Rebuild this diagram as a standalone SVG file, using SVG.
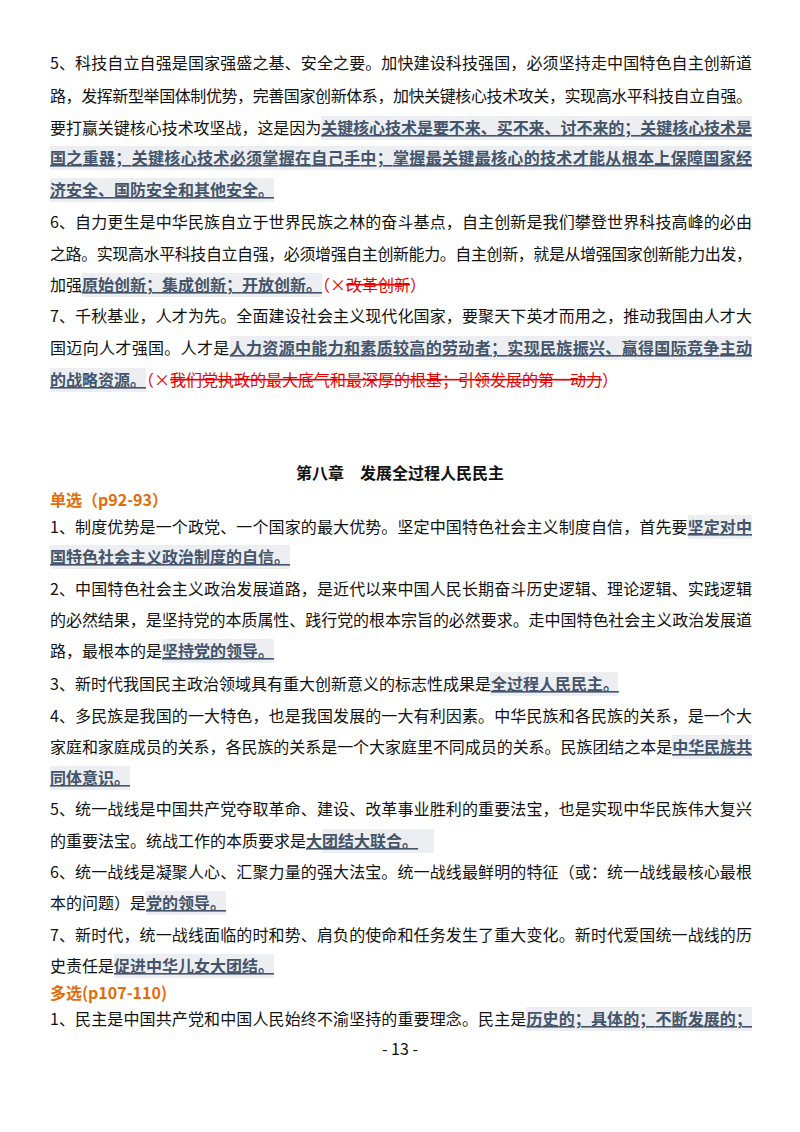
<svg xmlns="http://www.w3.org/2000/svg" width="800" height="1132" viewBox="0 0 800 1132">
<style>
text{font-family:"Noto Sans CJK SC","Noto Sans",sans-serif;font-size:16px;fill:#111}
.h{font-weight:bold;fill:#44546a;text-decoration:underline}
.r{fill:#e60000}
.s{text-decoration:line-through}
.o{fill:#e36c09;font-weight:bold}
.b{fill:#eceef1}
</style>
<rect width="800" height="1132" fill="#fff"/>
<g id="highlights">
<rect class="b" x="321" y="116" width="431" height="24"/>
<rect class="b" x="50" y="146" width="702" height="24"/>
<rect class="b" x="50" y="178" width="224" height="24"/>
<rect class="b" x="82" y="273" width="240" height="24"/>
<rect class="b" x="230" y="336" width="522" height="24"/>
<rect class="b" x="50" y="368" width="96" height="24"/>
<rect class="b" x="688" y="515" width="64" height="24"/>
<rect class="b" x="50" y="545" width="240" height="24"/>
<rect class="b" x="162" y="639" width="112" height="24"/>
<rect class="b" x="490" y="672" width="128" height="24"/>
<rect class="b" x="672" y="735" width="80" height="24"/>
<rect class="b" x="50" y="766" width="80" height="24"/>
<rect class="b" x="322" y="829" width="112" height="24"/>
<rect class="b" x="146" y="891" width="80" height="24"/>
<rect class="b" x="114" y="954" width="160" height="24"/>
<rect class="b" x="526" y="1007" width="226" height="24"/>
</g>
<g id="text">
<text x="50" y="69" textLength="702" lengthAdjust="spacing">5、科技自立自强是国家强盛之基、安全之要。加快建设科技强国，必须坚持走中国特色自主创新道</text>
<text x="50" y="102" textLength="702" lengthAdjust="spacing">路，发挥新型举国体制优势，完善国家创新体系，加快关键核心技术攻关，实现高水平科技自立自强。</text>
<text x="50" y="134" textLength="702" lengthAdjust="spacing">要打赢关键核心技术攻坚战，这是因为<tspan class="h">关键核心技术是要不来、买不来、讨不来的；关键核心技术是</tspan></text>
<text x="50" y="164" textLength="702" lengthAdjust="spacing"><tspan class="h">国之重器；关键核心技术必须掌握在自己手中；掌握最关键最核心的技术才能从根本上保障国家经</tspan></text>
<text x="50" y="196"><tspan class="h">济安全、国防安全和其他安全。</tspan></text>
<text x="50" y="228" textLength="702" lengthAdjust="spacing">6、自力更生是中华民族自立于世界民族之林的奋斗基点，自主创新是我们攀登世界科技高峰的必由</text>
<text x="50" y="260" textLength="702" lengthAdjust="spacing">之路。实现高水平科技自立自强，必须增强自主创新能力。自主创新，就是从增强国家创新能力出发，</text>
<text x="50" y="291">加强<tspan class="h">原始创新；集成创新；开放创新。</tspan><tspan class="r">（×<tspan class="r s">改革创新</tspan>）</tspan></text>
<text x="50" y="322" textLength="702" lengthAdjust="spacing">7、千秋基业，人才为先。全面建设社会主义现代化国家，要聚天下英才而用之，推动我国由人才大</text>
<text x="50" y="354" textLength="702" lengthAdjust="spacing">国迈向人才强国。人才是<tspan class="h">人力资源中能力和素质较高的劳动者；实现民族振兴、赢得国际竞争主动</tspan></text>
<text x="50" y="386"><tspan class="h">的战略资源。</tspan><tspan class="r">（×<tspan class="r s">我们党执政的最大底气和最深厚的根基；引领发展的第一动力</tspan>）</tspan></text>
<text x="400" y="479" text-anchor="middle" font-weight="bold">第八章　发展全过程人民民主</text>
<text x="50" y="506" class="o">单选（p92-93）</text>
<text x="50" y="533" textLength="702" lengthAdjust="spacing">1、制度优势是一个政党、一个国家的最大优势。坚定中国特色社会主义制度自信，首先要<tspan class="h">坚定对中</tspan></text>
<text x="50" y="563"><tspan class="h">国特色社会主义政治制度的自信。</tspan></text>
<text x="50" y="595" textLength="702" lengthAdjust="spacing">2、中国特色社会主义政治发展道路，是近代以来中国人民长期奋斗历史逻辑、理论逻辑、实践逻辑</text>
<text x="50" y="626" textLength="702" lengthAdjust="spacing">的必然结果，是坚持党的本质属性、践行党的根本宗旨的必然要求。走中国特色社会主义政治发展道</text>
<text x="50" y="657">路，最根本的是<tspan class="h">坚持党的领导。</tspan></text>
<text x="50" y="690">3、新时代我国民主政治领域具有重大创新意义的标志性成果是<tspan class="h">全过程人民民主。</tspan></text>
<text x="50" y="722" textLength="702" lengthAdjust="spacing">4、多民族是我国的一大特色，也是我国发展的一大有利因素。中华民族和各民族的关系，是一个大</text>
<text x="50" y="753" textLength="702" lengthAdjust="spacing">家庭和家庭成员的关系，各民族的关系是一个大家庭里不同成员的关系。民族团结之本是<tspan class="h">中华民族共</tspan></text>
<text x="50" y="784"><tspan class="h">同体意识。</tspan></text>
<text x="50" y="815" textLength="702" lengthAdjust="spacing">5、统一战线是中国共产党夺取革命、建设、改革事业胜利的重要法宝，也是实现中华民族伟大复兴</text>
<text x="50" y="847">的重要法宝。统战工作的本质要求是<tspan class="h">大团结大联合。</tspan></text>
<text x="50" y="878" textLength="702" lengthAdjust="spacing">6、统一战线是凝聚人心、汇聚力量的强大法宝。统一战线最鲜明的特征（或：统一战线最核心最根</text>
<text x="50" y="909">本的问题）是<tspan class="h">党的领导。</tspan></text>
<text x="50" y="941" textLength="702" lengthAdjust="spacing">7、新时代，统一战线面临的时和势、肩负的使命和任务发生了重大变化。新时代爱国统一战线的历</text>
<text x="50" y="972">史责任是<tspan class="h">促进中华儿女大团结。</tspan></text>
<text x="50" y="999" class="o">多选(p107-110)</text>
<text x="50" y="1025" textLength="702" lengthAdjust="spacing">1、民主是中国共产党和中国人民始终不渝坚持的重要理念。民主是<tspan class="h">历史的；具体的；不断发展的；</tspan></text>
<text x="400" y="1055" text-anchor="middle" font-size="11">- 13 -</text>
</g>
</svg>
